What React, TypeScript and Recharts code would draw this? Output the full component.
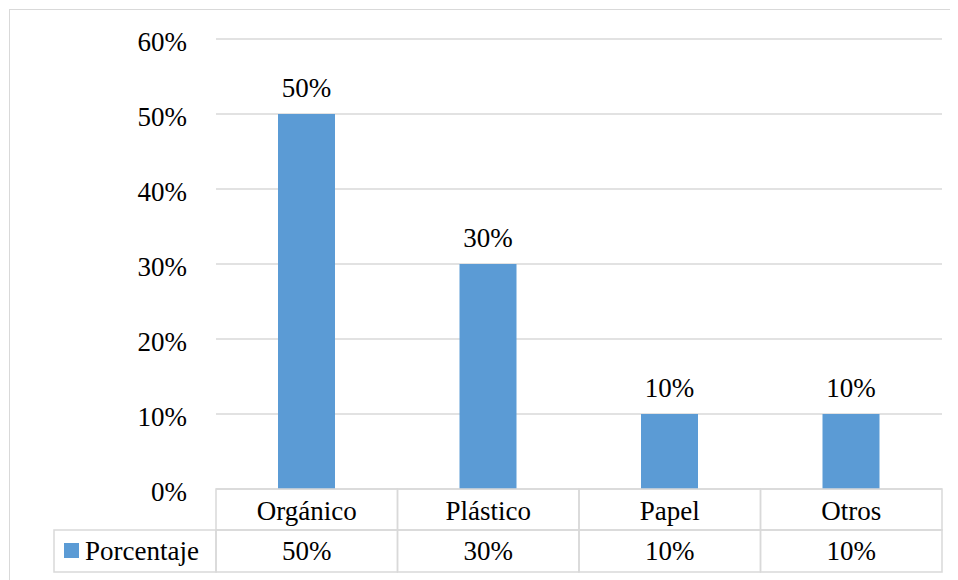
import { Bar, BarChart, CartesianGrid, LabelList, XAxis, YAxis } from "recharts";

const categories = ["Orgánico", "Plástico", "Papel", "Otros"];
const porcentaje = [50, 30, 10, 10];
const yTicks = [0, 10, 20, 30, 40, 50, 60];
const seriesName = "Porcentaje";

const data = categories.map((name, i) => ({ name, value: porcentaje[i] }));

const CHART_W = 940;
const CHART_H = 570;
const AXIS_W = 206;
const MARGIN_TOP = 29;
const PLOT_H = 450;
const MARGIN_RIGHT = 8;
const CELL_W = (CHART_W - AXIS_W - MARGIN_RIGHT) / categories.length;
const ROW_H = 41;
const LEGEND_W = 162;
const LINE = "#d9d9d9";
const BAR = "#5b9bd5";
const FONT = "Times New Roman";

const pct = (v: number) => `${v}%`;
const txt = { fontFamily: FONT, fontSize: 27 };

function TableTick(props: any) {
  const { x, y, payload } = props;
  const i = payload.index ?? categories.indexOf(payload.value);
  const left = x - CELL_W / 2;
  return (
    <g>
      <rect x={left} y={y} width={CELL_W} height={ROW_H} fill="none" stroke={LINE} strokeWidth={1.5} />
      <rect x={left} y={y + ROW_H} width={CELL_W} height={ROW_H + 1} fill="none" stroke={LINE} strokeWidth={1.5} />
      <text x={x} y={y + 31} textAnchor="middle" fontFamily={FONT} fontSize={27} style={txt} fill="#000">
        {payload.value}
      </text>
      <text x={x} y={y + 71} textAnchor="middle" fontFamily={FONT} fontSize={27} style={txt} fill="#000">
        {pct(porcentaje[i])}
      </text>
      {i === 0 && (
        <g>
          <rect x={left - LEGEND_W} y={y + ROW_H} width={LEGEND_W} height={ROW_H + 1} fill="none" stroke={LINE} strokeWidth={1.5} />
          <rect x={left - LEGEND_W + 10} y={y + ROW_H + 13} width={15} height={15} fill={BAR} />
          <text x={left - LEGEND_W + 31} y={y + 71} fontFamily={FONT} fontSize={27} style={txt} fill="#000">
            {seriesName}
          </text>
        </g>
      )}
    </g>
  );
}

function TopLabel(props: any) {
  const { x, y, width, value } = props;
  return (
    <text x={x + width / 2} y={y - 17} textAnchor="middle" fontFamily={FONT} fontSize={27} style={txt} fill="#000">
      {pct(value)}
    </text>
  );
}

function YTick(props: any) {
  const { x, y, payload } = props;
  return (
    <text x={x} y={y + 12} textAnchor="end" fontFamily={FONT} fontSize={27} style={txt} fill="#000">
      {pct(payload.value)}
    </text>
  );
}

export default function App() {
  return (
    <div
      style={{
        width: CHART_W + 10,
        height: CHART_H + 10,
        borderTop: `1px solid ${LINE}`,
        borderLeft: `1px solid ${LINE}`,
        transform: "translate(1px, 1px)",
        fontFamily: FONT,
      }}
    >
      <BarChart width={CHART_W} height={CHART_H} data={data} margin={{ top: MARGIN_TOP, right: MARGIN_RIGHT, left: 0, bottom: 0 }}>
        <CartesianGrid stroke={LINE} strokeWidth={1.5} vertical={false} />
        <YAxis
          domain={[0, 60]}
          ticks={yTicks}
          width={AXIS_W}
          axisLine={false}
          tickLine={false}
          tickSize={0}
          tickMargin={29}
          tick={<YTick />}
        />
        <XAxis
          dataKey="name"
          height={CHART_H - MARGIN_TOP - PLOT_H}
          axisLine={false}
          tickLine={false}
          tickSize={0}
          tickMargin={0}
          interval={0}
          tick={<TableTick />}
        />
        <Bar dataKey="value" fill={BAR} barSize={57} isAnimationActive={false}>
          <LabelList dataKey="value" content={<TopLabel />} />
        </Bar>
      </BarChart>
    </div>
  );
}
